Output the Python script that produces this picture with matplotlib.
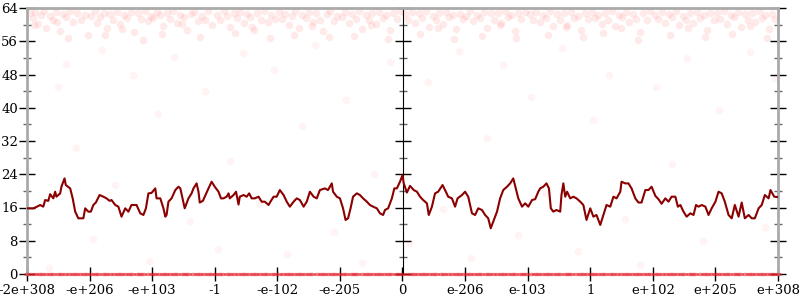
import numpy as np
import matplotlib
matplotlib.use("Agg")
import matplotlib.pyplot as plt
from matplotlib.ticker import MultipleLocator, NullFormatter
from matplotlib.path import Path
from matplotlib.transforms import Affine2D

plt.rcParams['font.family'] = 'DejaVu Serif'

# x axis is in tick-index units (0..12), labels below
x_labels = ['-2e+308', '-e+206', '-e+103', '-1', '-e-102', '-e-205', '0',
            'e-206', 'e-103', '1', 'e+102', 'e+205', 'e+308']

# smoothed error line (bits)
line_x = [0.00, 0.10, 0.16, 0.21, 0.26, 0.29, 0.34, 0.37, 0.42, 0.45, 0.47, 0.53, 0.55, 0.60, 0.62,
          0.69, 0.73, 0.77, 0.82, 0.90, 0.93, 0.98, 1.02, 1.06, 1.10, 1.16, 1.22, 1.27, 1.32, 1.35,
          1.41, 1.46, 1.51, 1.57, 1.62, 1.67, 1.75, 1.81, 1.86, 1.90, 1.94, 1.99, 2.05, 2.07, 2.13,
          2.18, 2.21, 2.23, 2.26, 2.31, 2.37, 2.42, 2.45, 2.50, 2.52, 2.58, 2.63, 2.66, 2.71, 2.74,
          2.76, 2.81, 2.84, 2.90, 2.95, 3.00, 3.06, 3.10, 3.14, 3.19, 3.22, 3.24, 3.30, 3.34, 3.38,
          3.40, 3.46, 3.51, 3.55, 3.59, 3.64, 3.70, 3.75, 3.80, 3.86, 3.89, 3.94, 3.99, 4.04, 4.10,
          4.15, 4.20, 4.26, 4.31, 4.36, 4.42, 4.47, 4.52, 4.58, 4.63, 4.68, 4.76, 4.81, 4.87, 4.89,
          4.95, 5.00, 5.05, 5.09, 5.13, 5.17, 5.21, 5.27, 5.32, 5.37, 5.43, 5.48, 5.53, 5.59, 5.64,
          5.69, 5.72, 5.77, 5.83, 5.87, 5.91, 5.96, 6.00, 6.02, 6.07, 6.12, 6.18, 6.23, 6.28, 6.33,
          6.39, 6.42, 6.47, 6.52, 6.57, 6.64, 6.68, 6.73, 6.79, 6.84, 6.88, 6.95, 7.00, 7.05, 7.11,
          7.16, 7.21, 7.27, 7.32, 7.37, 7.41, 7.45, 7.51, 7.56, 7.61, 7.67, 7.72, 7.77, 7.81, 7.85,
          7.91, 7.96, 8.01, 8.07, 8.12, 8.17, 8.20, 8.25, 8.30, 8.34, 8.37, 8.41, 8.46, 8.52, 8.54,
          8.57, 8.60, 8.63, 8.68, 8.73, 8.78, 8.84, 8.89, 8.94, 9.00, 9.05, 9.10, 9.16, 9.21, 9.26,
          9.32, 9.37, 9.42, 9.48, 9.50, 9.56, 9.61, 9.66, 9.72, 9.77, 9.82, 9.88, 9.93, 9.98, 10.04,
          10.09, 10.14, 10.20, 10.25, 10.30, 10.36, 10.40, 10.44, 10.49, 10.54, 10.60, 10.65, 10.69,
          10.73, 10.78, 10.84, 10.89, 10.94, 11.00, 11.05, 11.10, 11.15, 11.21, 11.26, 11.31, 11.37,
          11.42, 11.47, 11.53, 11.58, 11.63, 11.69, 11.74, 11.79, 11.85, 11.88, 11.94, 12.00]
line_y = [15.8, 15.8, 16.2, 16.6, 16.2, 17.8, 17.6, 19.2, 18.2, 19.8, 18.6, 19.4, 21.0, 23.0, 21.4,
          20.6, 18.2, 15.0, 13.4, 13.4, 15.8, 15.0, 15.0, 16.6, 17.2, 19.0, 18.6, 18.2, 17.6, 17.8,
          16.6, 16.2, 13.8, 15.8, 15.0, 16.6, 16.6, 14.6, 14.2, 15.8, 19.4, 19.5, 20.6, 18.2, 18.2,
          15.8, 13.8, 14.2, 17.4, 18.2, 20.2, 21.0, 20.6, 17.2, 15.8, 18.2, 19.4, 20.6, 21.8, 19.8,
          17.2, 17.6, 18.6, 20.6, 22.2, 21.0, 19.8, 18.2, 18.2, 18.6, 19.4, 18.2, 19.0, 19.8, 16.7,
          18.6, 19.0, 18.6, 19.4, 18.2, 18.2, 18.6, 17.4, 17.4, 16.6, 17.4, 18.6, 18.6, 20.2, 19.0,
          17.4, 16.2, 17.4, 18.2, 17.8, 16.2, 17.4, 19.8, 18.6, 18.2, 20.2, 20.6, 20.2, 21.8, 19.8,
          18.6, 18.2, 15.8, 13.0, 13.4, 15.8, 18.6, 19.4, 19.0, 18.2, 17.4, 16.6, 16.2, 15.8, 14.6,
          14.2, 15.4, 15.8, 18.2, 20.6, 20.6, 22.2, 23.8, 21.8, 19.6, 21.2, 20.2, 19.8, 18.6, 17.8,
          17.0, 14.2, 16.2, 19.4, 19.8, 21.4, 20.2, 18.6, 18.2, 16.2, 18.2, 19.0, 19.8, 18.6, 14.6,
          14.2, 15.8, 15.4, 14.2, 13.4, 11.0, 12.6, 15.0, 18.2, 20.2, 21.0, 21.8, 23.0, 20.6, 18.2,
          16.2, 17.0, 16.2, 17.8, 18.0, 19.8, 20.6, 21.0, 21.8, 20.6, 15.8, 15.0, 15.4, 15.0, 19.0,
          21.8, 18.6, 19.8, 18.2, 18.6, 18.2, 17.4, 16.6, 13.0, 15.8, 13.8, 14.2, 11.8, 14.2, 16.6,
          16.2, 18.6, 18.2, 19.8, 22.2, 21.8, 21.8, 20.6, 18.2, 17.2, 17.2, 20.2, 20.2, 21.0, 18.8,
          18.0, 16.9, 18.2, 17.4, 18.6, 18.6, 16.2, 16.6, 15.0, 13.8, 14.6, 14.2, 16.6,
          16.2, 16.6, 16.2, 14.2, 15.8, 17.4, 19.8, 19.4, 17.4, 14.2, 13.4, 16.6, 13.8,
          17.2, 13.4, 14.2, 13.4, 13.4, 15.8, 16.6, 19.0, 18.2, 20.2, 18.6, 18.5]

# sampled points with high error (near 64 bits)
top_pts = [
    (0.04, 62.8), (0.09, 61.5), (0.13, 63.1), (0.18, 60.2), (0.22, 62.4), (0.27, 63.3), (0.31, 59.1),
    (0.36, 62.0), (0.41, 61.2), (0.46, 63.0), (0.52, 58.4), (0.57, 62.6), (0.63, 61.8), (0.69, 63.2),
    (0.74, 60.7), (0.80, 62.9), (0.86, 61.1), (0.92, 62.3), (0.97, 57.6), (0.11, 59.8), (0.48, 60.6),
    (0.66, 56.9),
    (1.03, 62.1), (1.08, 63.2), (1.12, 60.4), (1.17, 61.9), (1.23, 62.8), (1.28, 59.3), (1.33, 62.5),
    (1.38, 61.0), (1.44, 63.1), (1.49, 60.1), (1.55, 62.2), (1.60, 61.6), (1.66, 63.0), (1.71, 58.2),
    (1.77, 62.7), (1.82, 61.3), (1.88, 63.3), (1.93, 60.8), (1.98, 62.0), (1.25, 57.4), (1.52, 59.0),
    (1.85, 56.3),
    (2.02, 61.7), (2.07, 63.0), (2.12, 62.2), (2.18, 59.6), (2.23, 62.9), (2.29, 61.4), (2.34, 63.2),
    (2.40, 60.5), (2.45, 62.3), (2.51, 61.9), (2.56, 58.8), (2.62, 62.6), (2.67, 63.1), (2.73, 60.9),
    (2.79, 62.0), (2.84, 61.2), (2.90, 63.3), (2.95, 59.9), (2.15, 57.8), (2.48, 60.2), (2.76, 57.1),
    (3.03, 62.4), (3.08, 61.1), (3.14, 63.2), (3.19, 62.0), (3.24, 59.4), (3.30, 62.8), (3.35, 61.5),
    (3.41, 63.0), (3.46, 60.3), (3.52, 62.5), (3.57, 61.8), (3.63, 58.6), (3.68, 62.9), (3.74, 61.0),
    (3.79, 63.3), (3.85, 60.7), (3.90, 62.2), (3.96, 61.4), (3.33, 57.9), (3.60, 59.5), (3.88, 56.8),
    (4.02, 63.0), (4.07, 61.3), (4.13, 62.6), (4.18, 60.0), (4.24, 62.1), (4.29, 63.2), (4.35, 59.2),
    (4.40, 62.4), (4.46, 61.6), (4.51, 63.1), (4.57, 60.6), (4.62, 62.8), (4.68, 61.2), (4.73, 58.4),
    (4.79, 62.5), (4.84, 63.3), (4.90, 60.9), (4.95, 62.0), (4.27, 57.5), (4.55, 59.7), (4.82, 57.0),
    (5.03, 61.9), (5.08, 63.1), (5.14, 60.5), (5.19, 62.6), (5.25, 61.4), (5.30, 63.2), (5.36, 59.0),
    (5.41, 62.2), (5.47, 61.0), (5.52, 62.9), (5.58, 60.2), (5.63, 63.0), (5.69, 61.7), (5.74, 62.4),
    (5.80, 58.7), (5.85, 62.7), (5.91, 61.3), (5.96, 63.2), (5.22, 57.2), (5.50, 59.8), (5.77, 56.5),
    (6.04, 62.5), (6.09, 61.2), (6.15, 63.1), (6.20, 60.4), (6.26, 62.8), (6.31, 61.6), (6.37, 63.3),
    (6.42, 59.5), (6.48, 62.1), (6.53, 61.0), (6.59, 62.9), (6.64, 60.1), (6.70, 63.0), (6.75, 61.8),
    (6.81, 62.4), (6.86, 58.9), (6.92, 62.6), (6.97, 61.3), (6.28, 57.7), (6.56, 59.2), (6.83, 56.6),
    (7.02, 62.0), (7.08, 63.2), (7.13, 60.8), (7.19, 62.4), (7.24, 61.5), (7.30, 63.0), (7.35, 59.3),
    (7.41, 62.7), (7.46, 61.1), (7.52, 62.9), (7.57, 60.3), (7.63, 63.3), (7.68, 61.9), (7.74, 62.2),
    (7.79, 58.5), (7.85, 62.8), (7.90, 61.4), (7.96, 63.1), (7.27, 57.3), (7.55, 59.9), (7.82, 56.9),
    (8.03, 62.6), (8.08, 61.0), (8.14, 63.0), (8.19, 60.6), (8.25, 62.3), (8.30, 61.7), (8.36, 63.2),
    (8.41, 59.7), (8.47, 62.5), (8.52, 61.2), (8.58, 62.9), (8.63, 60.0), (8.69, 63.1), (8.74, 61.6),
    (8.80, 62.1), (8.85, 58.8), (8.91, 62.7), (8.96, 61.4), (8.33, 57.6), (8.61, 59.4), (8.88, 57.1),
    (9.02, 63.1), (9.07, 61.6), (9.13, 62.4), (9.18, 60.2), (9.24, 62.9), (9.29, 61.1), (9.35, 63.3),
    (9.40, 59.6), (9.46, 62.2), (9.51, 61.8), (9.57, 63.0), (9.62, 60.7), (9.68, 62.5), (9.73, 61.3),
    (9.79, 58.3), (9.84, 62.8), (9.90, 61.0), (9.95, 63.2), (9.21, 57.9), (9.49, 59.1), (9.76, 56.4),
    (10.04, 62.3), (10.09, 61.4), (10.15, 63.0), (10.20, 60.3), (10.26, 62.6), (10.31, 61.9),
    (10.37, 63.2), (10.42, 59.9), (10.48, 62.1), (10.53, 61.1), (10.59, 62.8), (10.64, 60.5),
    (10.70, 63.1), (10.75, 61.5), (10.81, 62.4), (10.86, 58.6), (10.92, 62.9), (10.97, 61.2),
    (10.28, 57.4), (10.56, 59.3), (10.83, 57.0),
    (11.03, 62.7), (11.08, 61.3), (11.14, 63.2), (11.19, 60.1), (11.25, 62.2), (11.30, 61.8),
    (11.36, 63.0), (11.41, 59.4), (11.47, 62.6), (11.52, 61.0), (11.58, 62.9), (11.63, 60.6),
    (11.69, 63.3), (11.74, 61.7), (11.80, 62.3), (11.85, 58.9), (11.91, 62.5), (11.96, 61.4),
    (11.27, 57.8), (11.55, 59.7), (11.82, 56.7),
]

# scattered points in the middle range
mid_pts = [
    (0.35, 1.5), (0.50, 45.0), (0.62, 50.5), (0.78, 30.2), (1.05, 8.4), (1.20, 54.0), (1.40, 21.5),
    (1.70, 47.8), (1.95, 3.2), (2.10, 38.6), (2.35, 52.3), (2.60, 12.7), (2.85, 44.1), (3.05, 6.0),
    (3.25, 27.3), (3.45, 53.1), (3.70, 17.0), (3.95, 49.2), (4.15, 4.7), (4.40, 35.5), (4.60, 55.0),
    (4.90, 10.1), (5.10, 41.8), (5.35, 2.6), (5.55, 24.0), (5.80, 51.0), (6.10, 7.5), (6.40, 46.3),
    (6.65, 15.6), (6.90, 53.6), (7.10, 3.9), (7.35, 32.8), (7.60, 50.2), (7.85, 9.3), (8.05, 42.7),
    (8.30, 19.4), (8.55, 54.4), (8.80, 5.5), (9.05, 37.1), (9.30, 48.0), (9.55, 13.2), (9.80, 2.2),
    (10.05, 44.9), (10.30, 26.4), (10.55, 52.0), (10.80, 8.0), (11.05, 39.5), (11.30, 16.3),
    (11.55, 53.5), (11.80, 11.2), (11.95, 47.2),
]

# points with zero error
zero_x = [0.00, 0.06, 0.13, 0.19, 0.24, 0.31, 0.37, 0.42, 0.49, 0.55, 0.60, 0.67, 0.73, 0.78, 0.85, 0.91, 0.96,
          1.03, 1.09, 1.14, 1.21, 1.27, 1.32, 1.39, 1.45, 1.50, 1.57, 1.63, 1.68, 1.75, 1.81, 1.86, 1.93, 1.99,
          2.04, 2.11, 2.17, 2.22, 2.29, 2.35, 2.40, 2.47, 2.53, 2.58, 2.65, 2.71, 2.76, 2.83, 2.89, 2.94,
          3.01, 3.07, 3.12, 3.19, 3.25, 3.30, 3.37, 3.43, 3.48, 3.55, 3.61, 3.66, 3.73, 3.79, 3.84, 3.91, 3.97,
          4.02, 4.09, 4.15, 4.20, 4.27, 4.33, 4.38, 4.45, 4.51, 4.56, 4.63, 4.69, 4.74, 4.81, 4.87, 4.92, 4.99,
          5.05, 5.10, 5.17, 5.23, 5.28, 5.35, 5.41, 5.46, 5.53, 5.59, 5.64, 5.71, 5.77, 5.82, 5.89, 5.95,
          6.00, 6.07, 6.13, 6.18, 6.25, 6.31, 6.36, 6.43, 6.49, 6.54, 6.61, 6.67, 6.72, 6.79, 6.85, 6.90, 6.97,
          7.03, 7.08, 7.15, 7.21, 7.26, 7.33, 7.39, 7.44, 7.51, 7.57, 7.62, 7.69, 7.75, 7.80, 7.87, 7.93, 7.98,
          8.05, 8.11, 8.16, 8.23, 8.29, 8.34, 8.41, 8.47, 8.52, 8.59, 8.65, 8.70, 8.77, 8.83, 8.88, 8.95,
          9.01, 9.06, 9.13, 9.19, 9.24, 9.31, 9.37, 9.42, 9.49, 9.55, 9.60, 9.67, 9.73, 9.78, 9.85, 9.91, 9.96,
          10.03, 10.09, 10.14, 10.21, 10.27, 10.32, 10.39, 10.45, 10.50, 10.57, 10.63, 10.68, 10.75, 10.81,
          10.86, 10.93, 10.99, 11.04, 11.11, 11.17, 11.22, 11.29, 11.35, 11.40, 11.47, 11.53, 11.58, 11.65,
          11.71, 11.76, 11.83, 11.89, 11.94, 12.00]

fig = plt.figure(figsize=(8, 3), dpi=100)
ax = fig.add_axes([27 / 800, 1 - 274 / 300, 751 / 800, 266 / 300])

tx, ty = zip(*top_pts)
mx, my = zip(*mid_pts)
ax.scatter(tx, ty, s=30, color='#ff2020', alpha=0.09, linewidths=0, zorder=2)
ax.scatter(mx, my, s=30, color='#ff2020', alpha=0.05, linewidths=0, zorder=2)

# flattened circle so the crowded zero points merge into a thin band
flat_dot = Path.unit_circle().transformed(Affine2D().scale(1, 0.45))
ax.scatter(zero_x, np.zeros(len(zero_x)), s=30, marker=flat_dot, color='#e31c28', alpha=0.55,
           linewidths=0, zorder=3, clip_on=False)

ax.plot(line_x, line_y, color='#8b0000', lw=1.5, zorder=4)

ax.set_xlim(0, 12)
ax.set_ylim(0, 64)

ax.set_xticks(range(13))
ax.set_xticklabels(x_labels, fontsize=9.5)
ax.yaxis.set_major_locator(MultipleLocator(8))
ax.yaxis.set_minor_locator(MultipleLocator(4))
ax.tick_params(axis='y', which='major', direction='inout', length=11, width=1, labelsize=9.5,
               right=True, pad=1)
ax.tick_params(axis='y', which='minor', direction='inout', length=6, width=1, color='#666666',
               right=True)
ax.tick_params(axis='x', which='major', direction='inout', length=10, width=1, pad=2)

for side in ['left', 'top', 'right']:
    ax.spines[side].set_color('#aaaaaa')
    ax.spines[side].set_linewidth(2)
ax.spines['bottom'].set_visible(False)

# central axis at x = 0, ticks only
mid = ax.secondary_yaxis(0.5)
mid.yaxis.set_major_locator(MultipleLocator(8))
mid.yaxis.set_minor_locator(MultipleLocator(4))
mid.yaxis.set_major_formatter(NullFormatter())
mid.tick_params(which='major', direction='inout', length=11, width=1)
mid.tick_params(which='minor', direction='inout', length=6, width=1, color='#666666')
mid.spines['left'].set_color('#aaaaaa')
mid.spines['left'].set_linewidth(2)

fig.savefig('out.png', dpi=100)
